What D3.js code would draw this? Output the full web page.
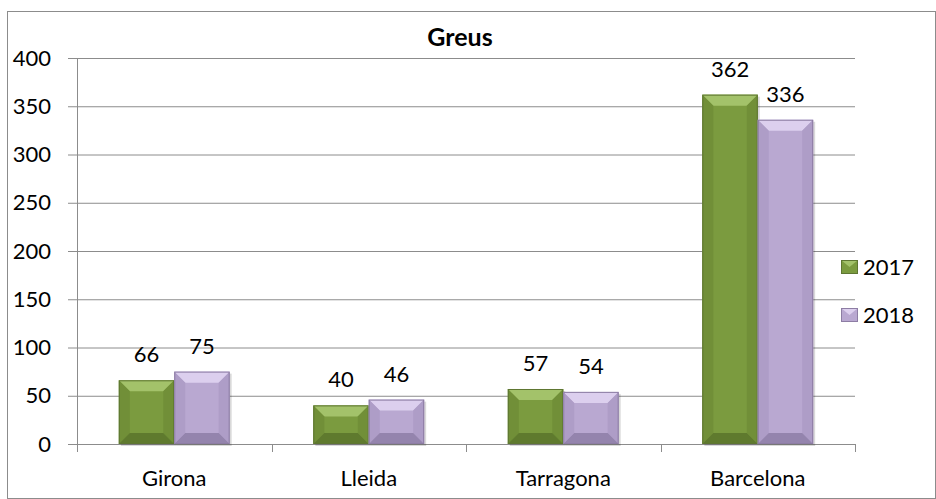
<!DOCTYPE html>
<html>
<head>
<meta charset="utf-8">
<script src="https://cdn.jsdelivr.net/npm/d3@7"></script>
<style>
  body { margin: 0; background: #fff; }
  svg text { font-family: Lato, "Open Sans", sans-serif; fill: #000; }
</style>
</head>
<body>
<div id="chart"></div>
<script>
// data
const categories = ["Girona", "Lleida", "Tarragona", "Barcelona"];
const seriesNames = ["2017", "2018"];
const values2017 = [66, 40, 57, 362];
const values2018 = [75, 46, 54, 336];
const yTicks = [0, 50, 100, 150, 200, 250, 300, 350, 400];

const colors = {
    "2017": {base: "#7b9b3f", top: "#a3c26a", side: "#718f38", bottom: "#5f7a2e", edge: "#5e7632"},
    "2018": {base: "#b9a8d1", top: "#dccfee", side: "#ae9dc7", bottom: "#9484ad", edge: "#8d7da4"}
};

const W = 936, H = 499;
const margin = {top: 58, right: 81, bottom: 55, left: 77};
const width = 855 - margin.left;
const height = 444 - margin.top;
const fs = 22;

const svg = d3.select("#chart").append("svg")
    .attr("width", W)
    .attr("height", H);

// outer chart border
svg.append("rect")
    .attr("x", 7.5).attr("y", 11.5)
    .attr("width", W - 8).attr("height", H - 12)
    .attr("fill", "none")
    .attr("stroke", "#8c8c8c")
    .attr("stroke-width", 1);

svg.append("text")
    .attr("x", 460).attr("y", 46)
    .attr("text-anchor", "middle")
    .attr("font-size", 25)
    .attr("font-weight", "bold")
    .text("Greus");

const g = svg.append("g")
    .attr("transform", `translate(${margin.left},${margin.top})`);

const x = d3.scaleBand().domain(categories).range([0, width]).paddingInner(0).paddingOuter(0);
const x1 = d3.scaleBand().domain(seriesNames).range([0, x.bandwidth()]).paddingOuter(0.755).paddingInner(0);
const y = d3.scaleLinear().domain([0, 400]).range([height, 0]);

// gridlines + y axis
const yAxis = d3.axisLeft(y).tickValues(yTicks).tickSize(-width);
g.append("g")
    .attr("class", "y-axis")
    .call(yAxis)
    .call(a => a.select(".domain").remove())
    .call(a => a.selectAll(".tick line")
        .attr("stroke", "#8c8c8c")
        .attr("x1", -9))
    .call(a => a.selectAll(".tick text")
        .attr("font-size", fs)
        .attr("font-family", "Lato, 'Open Sans', sans-serif")
        .attr("fill", "#000")
        .attr("x", -26)
        .attr("text-anchor", "end"));

g.append("line")
    .attr("x1", 0.5).attr("x2", 0.5)
    .attr("y1", 0).attr("y2", height + 8)
    .attr("stroke", "#8c8c8c");

// x axis tick marks and labels
const xTickPos = categories.map(c => x(c)).concat([width]);
g.append("g")
    .selectAll("line")
    .data(xTickPos)
    .join("line")
    .attr("x1", d => Math.round(d) + 0.5).attr("x2", d => Math.round(d) + 0.5)
    .attr("y1", height).attr("y2", height + 8)
    .attr("stroke", "#8c8c8c");

g.append("g")
    .selectAll("text")
    .data(categories)
    .join("text")
    .attr("x", d => x(d) + x.bandwidth() / 2)
    .attr("y", height + 42)
    .attr("text-anchor", "middle")
    .attr("font-size", fs)
    .text(d => d);

// bars with bevel
const rows = [];
categories.forEach((c, i) => {
    rows.push({cat: c, s: "2017", v: values2017[i]});
    rows.push({cat: c, s: "2018", v: values2018[i]});
});

const bevel = 11;
const bars = g.append("g").selectAll("g.bar")
    .data(rows)
    .join("g")
    .attr("class", "bar");

bars.each(function (d) {
    const b = d3.select(this);
    const x0 = x(d.cat) + x1(d.s);
    const bw = x1.bandwidth();
    const y0 = y(d.v);
    const y1 = y(0);
    const h = y1 - y0;
    const bv = Math.min(bevel, h / 2, bw / 2);
    const c = colors[d.s];
    // soft shadow
    b.append("rect")
        .attr("x", x0 + 2).attr("y", y0 + 2)
        .attr("width", bw).attr("height", h)
        .attr("fill", "#000").attr("opacity", 0.15);
    b.append("rect")
        .attr("x", x0).attr("y", y0)
        .attr("width", bw).attr("height", h)
        .attr("fill", c.base);
    const pts = (arr) => arr.map(p => p.join(",")).join(" ");
    // top bevel
    b.append("polygon")
        .attr("points", pts([[x0, y0], [x0 + bw, y0], [x0 + bw - bv, y0 + bv], [x0 + bv, y0 + bv]]))
        .attr("fill", c.top);
    // left & right sides
    b.append("polygon")
        .attr("points", pts([[x0, y0], [x0 + bv, y0 + bv], [x0 + bv, y1 - bv], [x0, y1]]))
        .attr("fill", c.side);
    b.append("polygon")
        .attr("points", pts([[x0 + bw, y0], [x0 + bw - bv, y0 + bv], [x0 + bw - bv, y1 - bv], [x0 + bw, y1]]))
        .attr("fill", c.side);
    // bottom bevel
    b.append("polygon")
        .attr("points", pts([[x0, y1], [x0 + bv, y1 - bv], [x0 + bw - bv, y1 - bv], [x0 + bw, y1]]))
        .attr("fill", c.bottom);
    b.append("rect")
        .attr("x", x0 + 0.5).attr("y", y0 + 0.5)
        .attr("width", bw - 1).attr("height", h - 1)
        .attr("fill", "none")
        .attr("stroke", c.edge).attr("stroke-width", 1);
});

// value labels
g.append("g")
    .selectAll("text")
    .data(rows)
    .join("text")
    .attr("x", d => x(d.cat) + x1(d.s) + x1.bandwidth() / 2)
    .attr("y", d => y(d.v) - 18)
    .attr("text-anchor", "middle")
    .attr("font-size", fs)
    .text(d => d.v);

// legend
const legend = svg.append("g")
    .selectAll("g")
    .data(seriesNames)
    .join("g")
    .attr("transform", (d, i) => `translate(841,${260 + i * 48})`);

legend.each(function (d) {
    const l = d3.select(this);
    const c = colors[d];
    l.append("rect").attr("width", 17).attr("height", 14).attr("fill", c.base);
    l.append("polygon").attr("points", "0,0 17,0 8.5,7").attr("fill", c.top);
    l.append("rect").attr("x", 0.5).attr("y", 0.5).attr("width", 16).attr("height", 13)
        .attr("fill", "none").attr("stroke", c.edge);
});

legend.append("text")
    .attr("x", 22)
    .attr("y", 15)
    .attr("font-size", fs)
    .text(d => d);
</script>
</body>
</html>
